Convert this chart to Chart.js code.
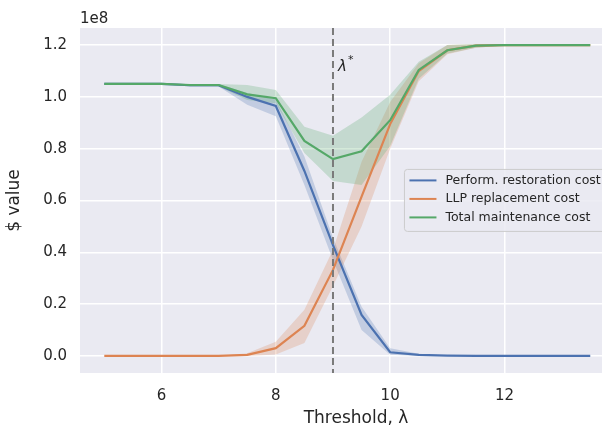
<!DOCTYPE html>
<html>
  <head>
    <title>Maintenance cost vs threshold</title>
    <script src="https://cdn.jsdelivr.net/npm/chart.js"></script>
    <style>
      html, body { margin: 0; padding: 0; overflow: hidden; background: #fff; }
      canvas { display: block; }
    </style>
  </head>
  <body>
    <canvas id="costChart" width="660" height="433"></canvas>

    <script>
      // threshold values (x) and costs in units of 1e8
      const thresholds = [5, 5.5, 6, 6.5, 7, 7.5, 8, 8.5, 9, 9.5, 10, 10.5, 11, 11.5, 12, 12.5, 13, 13.5];
      const restoration = [1.05, 1.05, 1.05, 1.045, 1.045, 1.0, 0.965, 0.714, 0.428, 0.158, 0.014, 0.004, 0.001, 0, 0, 0, 0, 0];
      const restorationLo = [1.05, 1.05, 1.05, 1.04, 1.04, 0.97, 0.925, 0.66, 0.37, 0.1, 0.004, 0, 0, 0, 0, 0, 0, 0];
      const restorationHi = [1.05, 1.05, 1.05, 1.05, 1.05, 1.015, 0.99, 0.77, 0.456, 0.19, 0.03, 0.008, 0.002, 0, 0, 0, 0, 0];
      const llp = [0, 0, 0, 0, 0, 0.004, 0.03, 0.116, 0.332, 0.615, 0.895, 1.1, 1.18, 1.198, 1.2, 1.2, 1.2, 1.2];
      const llpLo = [0, 0, 0, 0, 0, 0, 0.005, 0.05, 0.27, 0.5, 0.8, 1.06, 1.165, 1.19, 1.198, 1.2, 1.2, 1.2];
      const llpHi = [0, 0, 0, 0, 0, 0.01, 0.055, 0.178, 0.41, 0.75, 0.98, 1.13, 1.2, 1.203, 1.202, 1.2, 1.2, 1.2];
      const total = [1.05, 1.05, 1.05, 1.046, 1.046, 1.01, 0.995, 0.83, 0.76, 0.79, 0.91, 1.104, 1.18, 1.198, 1.2, 1.2, 1.2, 1.2];
      const totalLo = [1.05, 1.05, 1.05, 1.04, 1.04, 0.988, 0.975, 0.783, 0.675, 0.66, 0.81, 1.07, 1.168, 1.19, 1.198, 1.2, 1.2, 1.2];
      const totalHi = [1.05, 1.05, 1.05, 1.05, 1.05, 1.046, 1.027, 0.885, 0.85, 0.92, 1.008, 1.136, 1.2, 1.204, 1.202, 1.2, 1.2, 1.2];
      const xTicks = [6, 8, 10, 12];
      const yTicks = [0, 0.2, 0.4, 0.6, 0.8, 1.0, 1.2];
      const lambdaStar = 9;
      const seriesNames = ['Perform. restoration cost', 'LLP replacement cost', 'Total maintenance cost'];
      const colors = ['#4C72B0', '#DD8452', '#55A868'];
      const bandColors = ['rgba(76,114,176,0.25)', 'rgba(221,132,82,0.25)', 'rgba(85,168,104,0.25)'];

      const pts = (arr) => thresholds.map((x, i) => ({ x: x, y: arr[i] }));
      const textColor = '#262626';
      const font = 'DejaVu Sans';

      function line(i, arr, order) {
        return {
          label: seriesNames[i],
          data: pts(arr),
          borderColor: colors[i],
          borderWidth: 2.2,
          pointRadius: 0,
          fill: false,
          tension: 0,
          order: order,
        };
      }
      function band(i, arr, isLower, order) {
        return {
          label: 'band',
          data: pts(arr),
          borderWidth: 0,
          borderColor: 'rgba(0,0,0,0)',
          backgroundColor: bandColors[i],
          pointRadius: 0,
          fill: isLower ? '-1' : false,
          tension: 0,
          order: order,
        };
      }

      const extras = {
        id: 'extras',
        afterDatasetsDraw(chart) {
          const ctx = chart.ctx;
          const a = chart.chartArea;
          const xs = chart.scales.x;
          const ys = chart.scales.y;
          const px = xs.getPixelForValue(lambdaStar);
          ctx.save();
          ctx.strokeStyle = '#7a7a7a';
          ctx.lineWidth = 2;
          ctx.setLineDash([7, 4]);
          ctx.beginPath();
          ctx.moveTo(px, a.top);
          ctx.lineTo(px, a.bottom);
          ctx.stroke();
          ctx.setLineDash([]);
          ctx.fillStyle = textColor;
          ctx.font = 'italic 15px ' + font;
          ctx.textAlign = 'left';
          ctx.textBaseline = 'alphabetic';
          const ly = ys.getPixelForValue(1.1);
          ctx.fillText('λ', px + 5, ly);
          ctx.font = '11px ' + font;
          ctx.fillText('*', px + 15, ly - 8);

          // legend
          const lx = xs.getPixelForValue(10.25);
          const ty = ys.getPixelForValue(0.72);
          ctx.fillStyle = 'rgba(234,234,242,0.85)';
          ctx.strokeStyle = '#cccccc';
          ctx.lineWidth = 1;
          ctx.beginPath();
          ctx.roundRect(lx, ty, 250, 62, 3);
          ctx.fill();
          ctx.stroke();
          ctx.font = '12.5px ' + font;
          ctx.textBaseline = 'middle';
          for (let i = 0; i < 3; i++) {
            const yy = ty + 11 + i * 18.5;
            ctx.strokeStyle = colors[i];
            ctx.lineWidth = 2;
            ctx.beginPath();
            ctx.moveTo(lx + 5, yy);
            ctx.lineTo(lx + 32, yy);
            ctx.stroke();
            ctx.fillStyle = textColor;
            ctx.fillText(seriesNames[i], lx + 41, yy);
          }

          // offset text
          ctx.font = '15px ' + font;
          ctx.textBaseline = 'alphabetic';
          ctx.fillText('1e8', a.left, a.top - 5);
          ctx.restore();
        },
      };

      const ctx = document.getElementById('costChart').getContext('2d');
      const chart = new Chart(ctx, {
        type: 'line',
        data: {
          datasets: [
            line(2, total, 0),
            line(1, llp, 1),
            line(0, restoration, 2),
            band(2, totalHi, false, 3),
            band(2, totalLo, true, 3),
            band(1, llpHi, false, 4),
            band(1, llpLo, true, 4),
            band(0, restorationHi, false, 5),
            band(0, restorationLo, true, 5),
          ],
        },
        plugins: [
          {
            id: 'plotBg',
            beforeDraw(chart) {
              const a = chart.chartArea;
              chart.ctx.save();
              chart.ctx.fillStyle = '#EAEAF2';
              chart.ctx.fillRect(a.left, a.top, a.right - a.left, a.bottom - a.top);
              chart.ctx.restore();
            },
          },
          extras,
        ],
        options: {
          responsive: false,
          animation: false,
          layout: { padding: { top: 28, right: 28, left: 0, bottom: 0 } },
          plugins: {
            legend: { display: false },
            tooltip: { enabled: false },
          },
          scales: {
            x: {
              type: 'linear',
              min: 4.575,
              max: 14.23,
              afterBuildTicks: (s) => { s.ticks = xTicks.map((v) => ({ value: v })); },
              afterFit: (s) => { s.height = 60; },
              grid: { color: '#ffffff', lineWidth: 1.5, drawTicks: false },
              border: { display: false },
              ticks: { color: textColor, font: { family: font, size: 15 }, padding: 14 },
              title: {
                display: true,
                text: 'Threshold, λ',
                color: textColor,
                font: { family: font, size: 17 },
                padding: { top: 2 },
              },
            },
            y: {
              min: -0.066,
              max: 1.266,
              afterBuildTicks: (s) => { s.ticks = yTicks.map((v) => ({ value: v })); },
              afterFit: (s) => { s.width = 80; },
              grid: { color: '#ffffff', lineWidth: 1.5, drawTicks: false },
              border: { display: false },
              ticks: {
                color: textColor,
                font: { family: font, size: 15 },
                padding: 13,
                callback: (v) => v.toFixed(1),
              },
              title: {
                display: true,
                text: '$ value',
                color: textColor,
                font: { family: font, size: 17 },
                padding: { bottom: 6 },
              },
            },
          },
        },
      });
    </script>
  </body>
</html>
